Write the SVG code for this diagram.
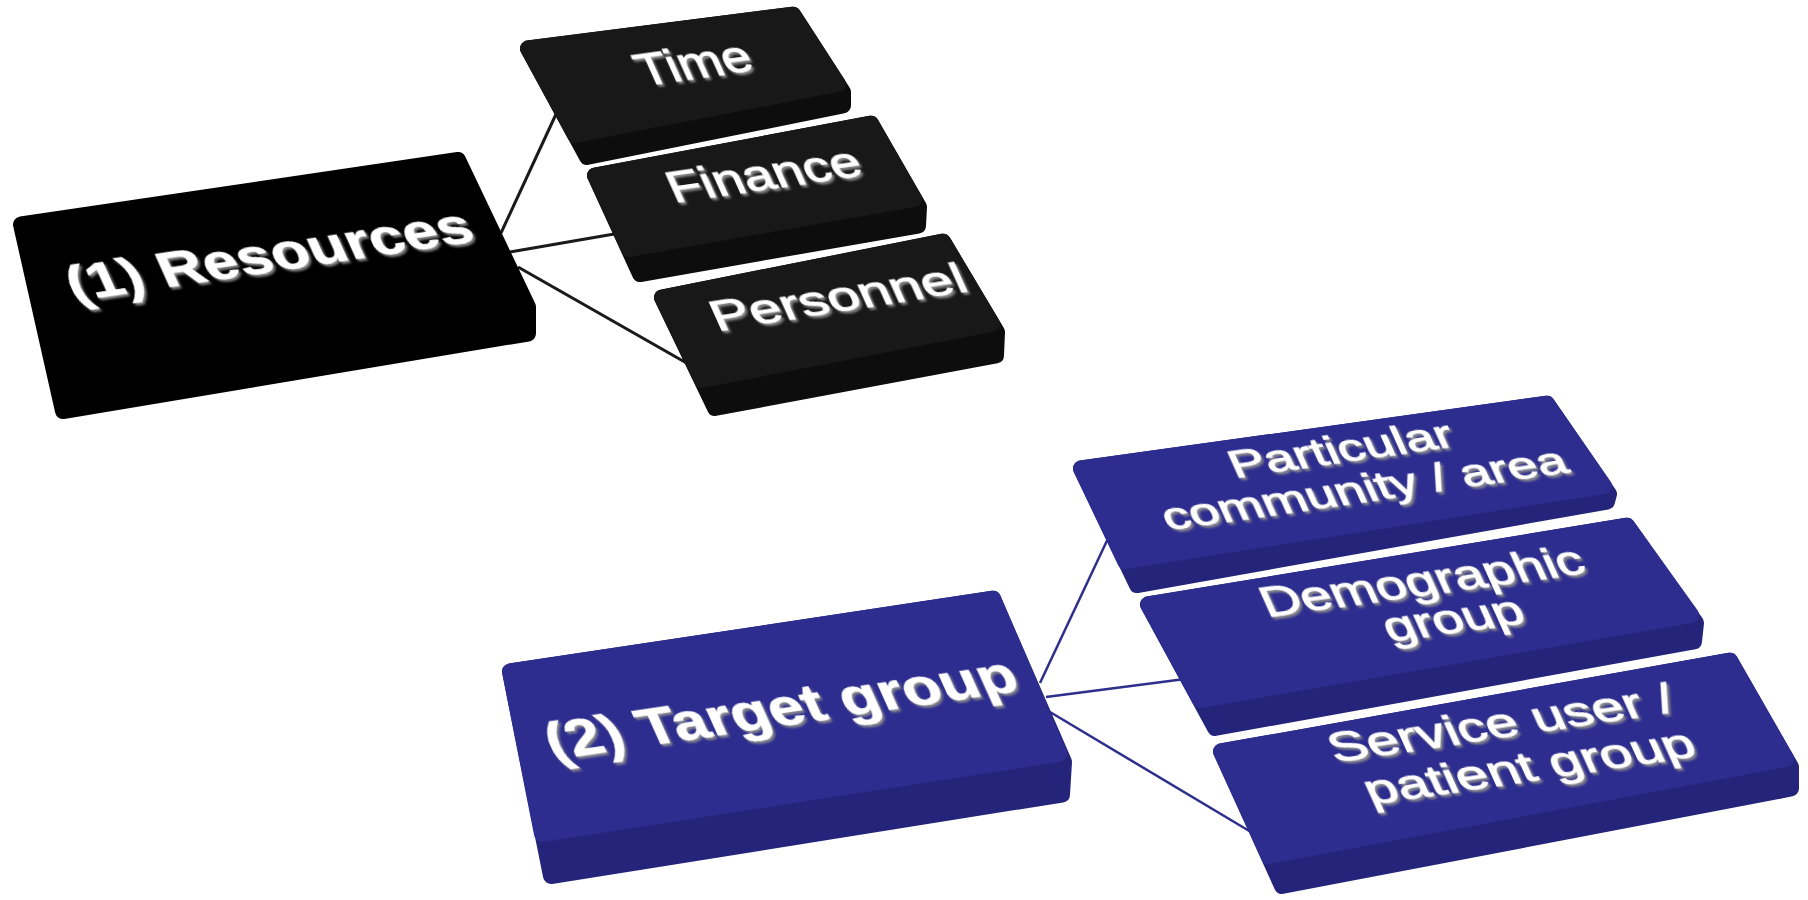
<svg xmlns="http://www.w3.org/2000/svg" width="1808" height="900" viewBox="0 0 1808 900">
<defs>
<filter id="emb" x="-10%" y="-40%" width="120%" height="180%">
<feDropShadow dx="1" dy="2.5" stdDeviation="0.9" flood-color="#8c8c8c" flood-opacity="1"/>
</filter>
</defs>
<style>
.sk{stroke-linejoin:round;stroke-width:16}
.rS{fill:#000;stroke:#000}
.kS{fill:#0d0d0d;stroke:#0d0d0d}
.kF{fill:#181818;stroke:#181818}
.bS{fill:#24247a;stroke:#24247a}
.bF{fill:#2d2d8f;stroke:#2d2d8f}
.t{font-family:"Liberation Sans",Arial,sans-serif;fill:#fff;stroke:#fff;stroke-width:0.9;filter:url(#emb);text-anchor:middle}
.bd{font-weight:700;stroke-width:0.6}
.kl{stroke:#1a1a1a;stroke-width:3;fill:none}
.bl{stroke:#2e2e8c;stroke-width:2.5;fill:none}
</style>
<rect width="1808" height="900" fill="#fff"/>
<g id="connectors">
<line class="kl" x1="501" y1="233" x2="557" y2="112"/>
<line class="kl" x1="510" y1="252" x2="620" y2="233"/>
<line class="kl" x1="518" y1="267" x2="690" y2="365"/>
<line class="bl" x1="1040" y1="683" x2="1112" y2="530"/>
<line class="bl" x1="1046" y1="697" x2="1185" y2="679"/>
<line class="bl" x1="1050" y1="712" x2="1256" y2="835"/>
</g>
<g id="resources">
<polygon class="sk rS" points="21,224.5 458,160 528,307 528,333.5 63,411"/>
<text class="t bd" font-size="48" transform="matrix(1.27,-0.191,0.45,1,276,271)">(1) Resources</text>
</g>
<g id="time">
<polygon class="sk kS" points="528,48.5 793,14.7 843,92 843,105.5 587,157"/>
<polygon class="sk kF" points="528,48.5 793,14.7 838,84 575,135"/>
<text class="t" font-size="43" transform="matrix(1.2,-0.168,0.45,1,700,78)">Time</text>
</g>
<g id="finance">
<polygon class="sk kS" points="595,175.5 871,123.7 919,207 918,225.5 640,274"/>
<polygon class="sk kF" points="595,175.5 871,123.7 914,199 629,249"/>
<text class="t" font-size="43" transform="matrix(1.25,-0.18,0.45,1,770,189)">Finance</text>
</g>
<g id="personnel">
<polygon class="sk kS" points="662,297.5 943,241.7 997,332 996,355.5 715,408"/>
<polygon class="sk kF" points="662,297.5 943,241.7 992,324 702,380"/>
<text class="t" font-size="41" transform="matrix(1.37,-0.219,0.45,1,844,311)">Personnel</text>
</g>
<g id="target">
<polygon class="sk bS" points="510,671.5 993,598.7 1064,762 1062,794.5 551,876"/>
<polygon class="sk bF" points="510,671.5 993,598.7 1059,754 542,834"/>
<text class="t bd" font-size="51" transform="matrix(1.21,-0.18,0.45,1,788,725)">(2) Target group</text>
</g>
<g id="particular">
<polygon class="sk bS" points="1081,468.5 1547,403.7 1609,494 1607,501.5 1137,585"/>
<polygon class="sk bF" points="1081,468.5 1547,403.7 1604,486 1125,561"/>
<text class="t" font-size="37" transform="matrix(1.42,-0.206,0.45,1,1346,462)"><tspan x="0" y="0">Particular</tspan><tspan x="4" y="40">community / area</tspan></text>
</g>
<g id="demographic">
<polygon class="sk bS" points="1148,604.5 1627,525.7 1696,623 1694,641.5 1215,728"/>
<polygon class="sk bF" points="1148,604.5 1627,525.7 1691,615 1200,700"/>
<text class="t" font-size="40" transform="matrix(1.35,-0.186,0.45,1,1428,595)"><tspan x="0" y="0">Demographic</tspan><tspan x="10" y="39">group</tspan></text>
</g>
<g id="service">
<polygon class="sk bS" points="1221,751.5 1730,660.7 1791,767 1791,788.5 1282,886"/>
<polygon class="sk bF" points="1221,751.5 1730,660.7 1786,759 1269,856"/>
<text class="t" font-size="41" transform="matrix(1.37,-0.205,0.45,1,1507,737)"><tspan x="0" y="0">Service user /</tspan><tspan x="6" y="45">patient group</tspan></text>
</g>
</svg>
